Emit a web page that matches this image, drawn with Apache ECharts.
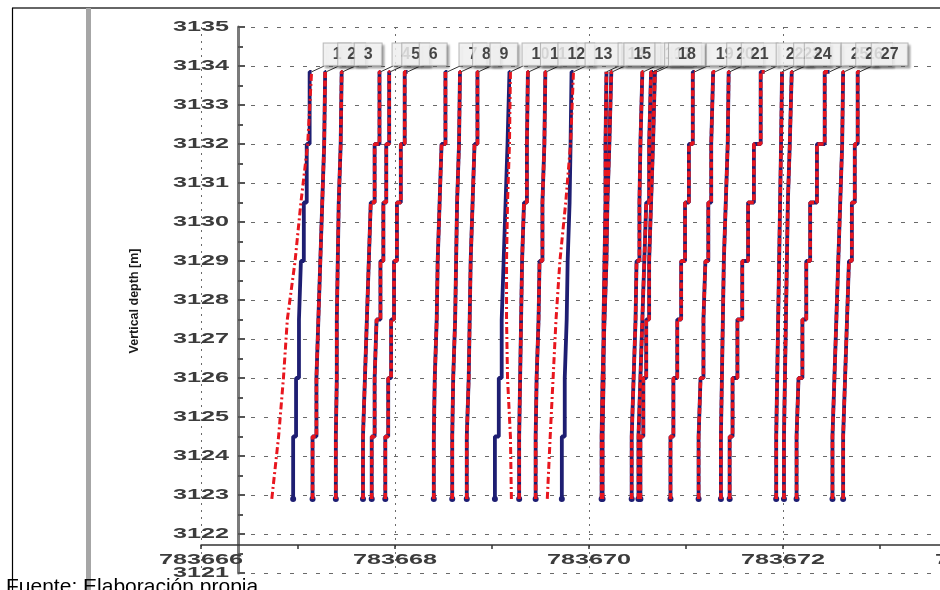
<!DOCTYPE html>
<html>
<head>
<meta charset="utf-8">
<script src="https://cdn.jsdelivr.net/npm/echarts@6/dist/echarts.min.js"></script>
<style>
  html, body { margin: 0; padding: 0; background: #fff; }
  #chart { width: 940px; height: 590px; }
</style>
</head>
<body>
<div id="chart"></div>
<script>
// Vertical depths (m) of the trajectory vertices, bottom to top
const stepDepths = [3122.9, 3124.5, 3126, 3127.5, 3129, 3130.5, 3132, 3133.85];

// Drilled trajectories: easting (m) at each vertex, one array per well
const drilledEast = [
  [783666.95, 783666.98, 783667.01, 783667.03, 783667.06, 783667.09, 783667.12, 783667.14],
  [783667.15, 783667.19, 783667.21, 783667.23, 783667.25, 783667.27, 783667.28, 783667.29],
  [783667.39, 783667.40, 783667.40, 783667.41, 783667.42, 783667.44, 783667.45, 783667.46],
  [783667.67, 783667.69, 783667.71, 783667.73, 783667.75, 783667.79, 783667.84, 783667.85],
  [783667.76, 783667.79, 783667.81, 783667.85, 783667.88, 783667.91, 783667.94, 783667.95],
  [783667.90, 783667.93, 783667.96, 783667.99, 783668.02, 783668.06, 783668.10, 783668.13],
  [783668.40, 783668.41, 783668.43, 783668.44, 783668.46, 783668.48, 783668.52, 783668.54],
  [783668.59, 783668.60, 783668.62, 783668.63, 783668.64, 783668.66, 783668.67, 783668.68],
  [783668.74, 783668.76, 783668.77, 783668.78, 783668.80, 783668.82, 783668.85, 783668.86],
  [783669.03, 783669.07, 783669.10, 783669.12, 783669.14, 783669.16, 783669.18, 783669.19],
  [783669.28, 783669.29, 783669.30, 783669.31, 783669.33, 783669.36, 783669.37, 783669.38],
  [783669.45, 783669.46, 783669.48, 783669.49, 783669.52, 783669.54, 783669.55, 783669.56],
  [783669.72, 783669.75, 783669.77, 783669.78, 783669.80, 783669.81, 783669.82, 783669.84],
  [783670.14, 783670.15, 783670.15, 783670.16, 783670.17, 783670.17, 783670.18, 783670.18],
  [783670.13, 783670.14, 783670.16, 783670.18, 783670.19, 783670.21, 783670.23, 783670.24],
  [783670.44, 783670.46, 783670.48, 783670.49, 783670.52, 783670.53, 783670.55, 783670.56],
  [783670.51, 783670.53, 783670.55, 783670.57, 783670.59, 783670.62, 783670.64, 783670.66],
  [783670.53, 783670.56, 783670.59, 783670.62, 783670.64, 783670.66, 783670.68, 783670.70],
  [783670.84, 783670.87, 783670.91, 783670.95, 783670.99, 783671.03, 783671.07, 783671.09],
  [783671.13, 783671.15, 783671.18, 783671.20, 783671.23, 783671.26, 783671.28, 783671.30],
  [783671.36, 783671.37, 783671.38, 783671.39, 783671.41, 783671.43, 783671.44, 783671.45],
  [783671.45, 783671.48, 783671.53, 783671.58, 783671.64, 783671.70, 783671.77, 783671.81],
  [783671.93, 783671.94, 783671.95, 783671.96, 783671.97, 783671.98, 783671.99, 783671.99],
  [783672.01, 783672.02, 783672.03, 783672.04, 783672.05, 783672.07, 783672.09, 783672.10],
  [783672.14, 783672.16, 783672.20, 783672.24, 783672.28, 783672.35, 783672.43, 783672.48],
  [783672.51, 783672.53, 783672.55, 783672.57, 783672.59, 783672.61, 783672.62, 783672.63],
  [783672.62, 783672.64, 783672.66, 783672.68, 783672.71, 783672.74, 783672.77, 783672.79]
];

// Planned trajectories that depart from the drilled path (other wells follow it)
const plannedWell1  = [783666.73, 783666.80, 783666.85, 783666.89, 783666.97, 783667.03, 783667.10, 783667.14];
const plannedWell10 = [783669.20, 783669.19, 783669.16, 783669.15, 783669.15, 783669.16, 783669.18, 783669.19];
const plannedWell13 = [783669.57, 783669.60, 783669.63, 783669.66, 783669.70, 783669.76, 783669.81, 783669.84];
const plannedById = { 0: plannedWell1, 9: plannedWell10, 12: plannedWell13 };

// Well tags
const wellLabels = ['1','2','3','4','5','6','7','8','9','10','11','12','13','14','15','16','17','18','19','20','21','22','23','24','25','26','27'];

// Axis tick labels
const depthTicks = [3121, 3122, 3123, 3124, 3125, 3126, 3127, 3128, 3129, 3130, 3131, 3132, 3133, 3134, 3135];
const eastTicks = [783666, 783668, 783670, 783672, 783674];

const NAVY = '#1e1e72';
const RED = '#e8161e';
const GRID_LEFT = 201, GRID_TOP = 27, GRID_W = 776, GRID_H = 546;
const Y_AXIS_SHIFT = 37;     // depth axis sits inside the plot area
const X_AXIS_SHIFT = 28;     // easting axis sits above the plot bottom
const TAG_DX = 0.13, TAG_DY = 0.15;   // leader from well head to its tag

const chart = echarts.init(document.getElementById('chart'), null, { renderer: 'canvas' });

const series = [];
const topDepth = stepDepths[stepDepths.length - 1];

drilledEast.forEach((east, i) => {
  // drilled path (solid navy) with a dot at the well bottom
  series.push({
    type: 'line', xAxisIndex: 0, yAxisIndex: 0, step: 'start', silent: true,
    showSymbol: true, z: 2,
    data: east.map((e, k) => k === 0
      ? { value: [e, stepDepths[k]], symbol: 'circle', symbolSize: 6 }
      : { value: [e, stepDepths[k]], symbol: 'none' }),
    lineStyle: { color: NAVY, width: 3.8 },
    itemStyle: { color: NAVY }
  });
  // planned path (dashed red)
  const planned = plannedById[i];
  series.push({
    type: 'line', xAxisIndex: 0, yAxisIndex: 0, silent: true, showSymbol: false, z: 3,
    step: planned ? false : 'start',
    data: (planned || east).map((e, k) => [e, stepDepths[k]]),
    lineStyle: planned
      ? { color: RED, width: 3, type: [7, 3, 2, 3] }
      : { color: RED, width: 3.5, type: [6, 2.5] }
  });
});

const tops = drilledEast.map(east => east[east.length - 1]);

// leaders from each well head to its tag
series.push({
  type: 'lines', coordinateSystem: 'cartesian2d', xAxisIndex: 0, yAxisIndex: 0,
  silent: true, z: 4,
  data: tops.map(t => ({ coords: [[t, topDepth], [t + TAG_DX, topDepth + TAG_DY]] })),
  lineStyle: { color: '#333', width: 1, opacity: 1 }
});

// well tags
series.push({
  type: 'scatter', xAxisIndex: 0, yAxisIndex: 0, silent: true, z: 5,
  symbolSize: 1, itemStyle: { color: 'rgba(0,0,0,0)' },
  data: tops.map((t, i) => ({ name: wellLabels[i], value: [t + TAG_DX, topDepth + TAG_DY] })),
  label: {
    show: true, formatter: p => p.name, position: [0, 0],
    align: 'left', verticalAlign: 'bottom',
    fontFamily: 'Arial', fontWeight: 'bold', fontSize: 16, lineHeight: 16, color: '#1a1a1a',
    backgroundColor: '#fbfbfb', borderColor: '#a8a8a8', borderWidth: 1,
    padding: [3, 9],
    shadowColor: 'rgba(0,0,0,0.28)', shadowBlur: 2, shadowOffsetX: 2, shadowOffsetY: 2
  }
});

chart.setOption({
  animation: false,
  backgroundColor: '#ffffff',
  grid: [
    { left: GRID_LEFT, top: GRID_TOP, width: GRID_W, height: GRID_H, containLabel: false, outerBoundsMode: 'none' },
    { left: GRID_LEFT + Y_AXIS_SHIFT, top: GRID_TOP, right: 0, height: GRID_H, containLabel: false, outerBoundsMode: 'none' }
  ],
  xAxis: [
    {
      gridIndex: 0, type: 'value', min: 783666, max: 783674, interval: 2,
      position: 'bottom', offset: -X_AXIS_SHIFT,
      axisLine: { show: true, onZero: false, lineStyle: { color: '#333', width: 1.5 } },
      axisTick: { show: true, length: 4, lineStyle: { color: '#333', width: 1.5 } },
      minorTick: { show: true, splitNumber: 2, length: 4, lineStyle: { color: '#333', width: 1.5 } },
      axisLabel: { show: false },
      splitLine: { show: true, lineStyle: { color: '#6a6a6a', type: [2, 5], width: 1 } }
    },
    { gridIndex: 1, type: 'value', min: 0, max: 1, show: false }
  ],
  yAxis: [
    {
      gridIndex: 0, type: 'value', min: 3121, max: 3135, interval: 1,
      position: 'left', offset: -Y_AXIS_SHIFT,
      axisLine: { show: true, onZero: false, lineStyle: { color: '#7a7a7a', width: 3 } },
      axisTick: { show: true, inside: true, length: 7, lineStyle: { color: '#555', width: 2 } },
      minorTick: { show: true, splitNumber: 2, length: 5, lineStyle: { color: '#555', width: 2 } },
      axisLabel: { show: false },
      splitLine: { show: false }
    },
    {
      gridIndex: 1, type: 'value', min: 3121, max: 3135, interval: 1,
      axisLine: { show: false }, axisTick: { show: false }, axisLabel: { show: false },
      splitLine: { show: true, lineStyle: { color: '#6a6a6a', type: [4, 9], width: 1 } }
    }
  ],
  series: series
});

// Tick labels are set in a wide face, placed from the axis scales
const tickFont = 'bold 14px Arial';
const elements = [];
const labelRight = GRID_LEFT + Y_AXIS_SHIFT - 9;
depthTicks.forEach(d => {
  const p = chart.convertToPixel({ gridIndex: 0 }, [783666, d]);
  elements.push({
    type: 'text', x: labelRight, y: p[1], scaleX: 1.8, z: 20, silent: true,
    style: { text: String(d), x: 0, y: 0, font: tickFont, fill: '#3c3c3c',
             align: 'right', verticalAlign: 'middle', textAlign: 'right', textVerticalAlign: 'middle' }
  });
});
const xAxisY = GRID_TOP + GRID_H - X_AXIS_SHIFT;
eastTicks.forEach(e => {
  const p = chart.convertToPixel({ gridIndex: 0 }, [e, 3121]);
  elements.push({
    type: 'text', x: p[0], y: xAxisY + 15, scaleX: 1.8, z: 20, silent: true,
    style: { text: String(e), x: 0, y: 0, font: tickFont, fill: '#3c3c3c',
             align: 'center', verticalAlign: 'middle', textAlign: 'center', textVerticalAlign: 'middle' }
  });
});

// axis title
elements.push({
  type: 'text', x: 135, y: 301, rotation: Math.PI / 2, z: 20, silent: true,
  style: { text: 'Vertical depth [m]', x: 0, y: 0, font: 'bold 12.5px Arial', fill: '#1a1a1a',
           align: 'center', verticalAlign: 'middle', textAlign: 'center', textVerticalAlign: 'middle' }
});

// page frame
elements.push({ type: 'line', z: 20, silent: true, shape: { x1: 12, y1: 8, x2: 940, y2: 8 }, style: { stroke: '#666', lineWidth: 2 } });
elements.push({ type: 'line', z: 20, silent: true, shape: { x1: 12.5, y1: 8, x2: 12.5, y2: 590 }, style: { stroke: '#000', lineWidth: 1.2 } });
elements.push({ type: 'rect', z: 20, silent: true, shape: { x: 86, y: 8, width: 5, height: 582 }, style: { fill: '#a6a6a6' } });

// source note
elements.push({
  type: 'text', x: 6, y: 577, z: 30, silent: true,
  style: { text: 'Fuente: Elaboración propia', x: 0, y: 0, font: '21px Arial', fill: '#000',
           align: 'left', verticalAlign: 'top', textAlign: 'left', textVerticalAlign: 'top' }
});

chart.setOption({ graphic: { elements: elements } });
</script>
</body>
</html>
